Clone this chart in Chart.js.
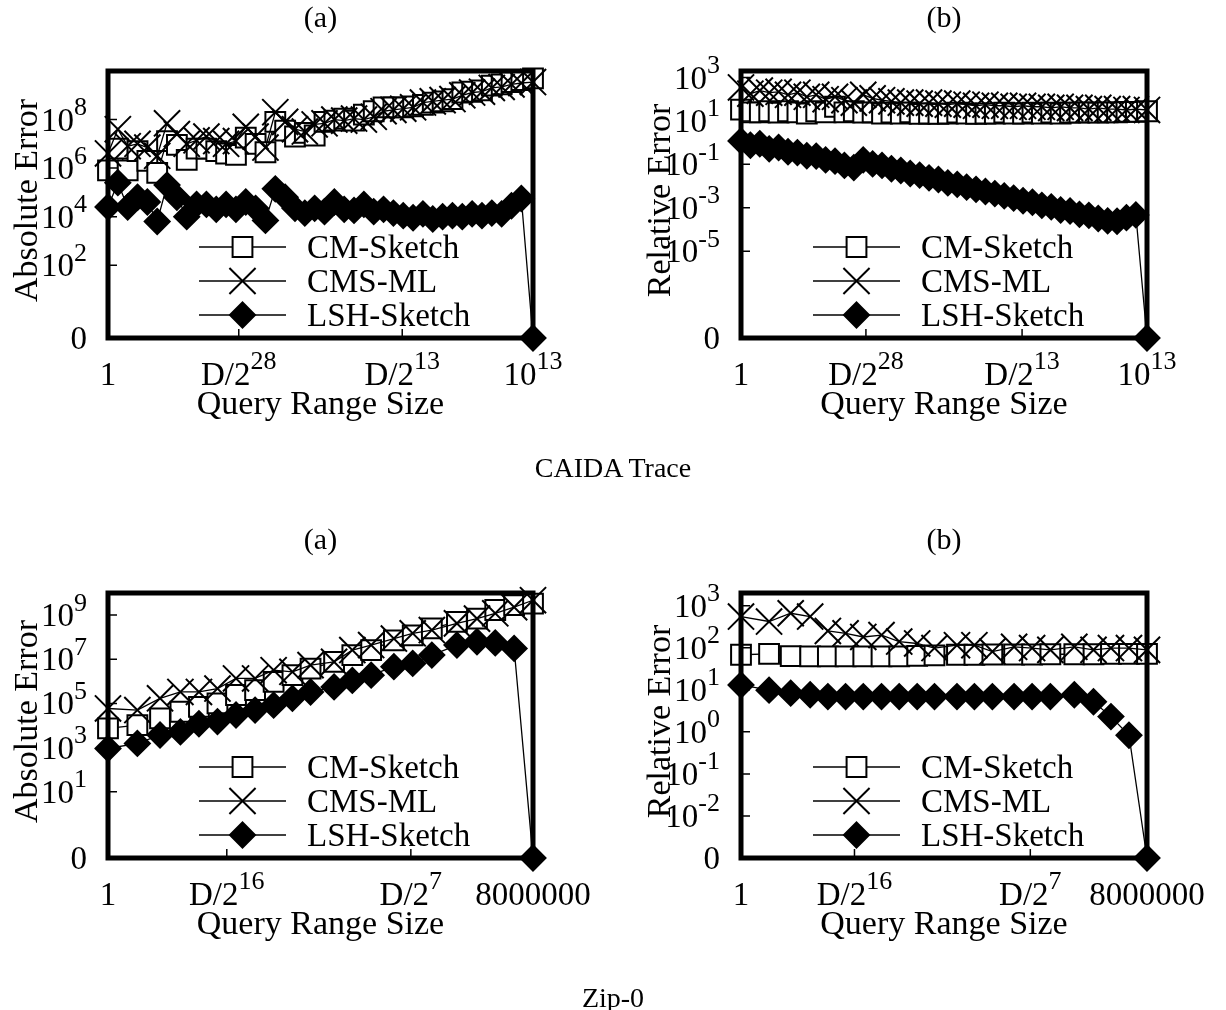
<!DOCTYPE html>
<html>
<head>
<meta charset="utf-8">
<script src="https://cdn.jsdelivr.net/npm/chart.js"></script>
<style>
  html, body { margin: 0; padding: 0; background: #fff; }
  #page { position: relative; width: 1226px; height: 1010px; overflow: hidden; background: #fff; }
  #page canvas { position: absolute; left: 0; top: 0; }
  .caption { position: absolute; left: 0; width: 1226px; text-align: center; color: #000;
             font-family: "Liberation Serif", "Times New Roman", serif; font-size: 28px; line-height: 28px; }
</style>
</head>
<body>
<div id="page">
  <canvas id="caidaAbs" width="1226" height="1010"></canvas>
  <canvas id="caidaRel" width="1226" height="1010"></canvas>
  <canvas id="zipAbs" width="1226" height="1010"></canvas>
  <canvas id="zipRel" width="1226" height="1010"></canvas>
  <div class="caption" style="top:454px">CAIDA Trace</div>
  <div class="caption" style="top:984px">Zip-0</div>
</div>
<script>
// Query range sizes (x) -------------------------------------------------------
const caidaSizes = [
  2 ** 0, 2 ** 1, 2 ** 2, 2 ** 3, 2 ** 4, 2 ** 5, 2 ** 6, 2 ** 7, 2 ** 8, 2 ** 9,
  2 ** 10, 2 ** 11, 2 ** 12, 2 ** 13, 2 ** 14, 2 ** 15, 2 ** 16, 2 ** 17, 2 ** 18, 2 ** 19,
  2 ** 20, 2 ** 21, 2 ** 22, 2 ** 23, 2 ** 24, 2 ** 25, 2 ** 26, 2 ** 27, 2 ** 28, 2 ** 29,
  2 ** 30, 2 ** 31, 2 ** 32, 2 ** 33, 2 ** 34, 2 ** 35, 2 ** 36, 2 ** 37, 2 ** 38, 2 ** 39,
  2 ** 40, 2 ** 41, 2 ** 42, 1e13
];
const zipSizes = [1, 3, 7, 15, 30, 60, 120, 245, 490, 990, 1950, 4700, 9300, 18800,
  44000, 89000, 182000, 465000, 985000, 1950000, 3950000, 8000000];

// CAIDA Trace, absolute error
const caidaAbsCM = [
  8e5, 6.3e6, 8e5, 5e6, 2e6, 6.3e5, 1.3e7, 9e6, 2.2e6, 6.3e6,
  6.3e6, 5e6, 4e6, 3.5e6, 1.8e7, 1e7, 4.5e6, 8e7, 3.5e7, 2e7,
  2.8e7, 2.2e7, 8e7, 9e7, 1.1e8, 9e7, 1.6e8, 2.2e8, 3.2e8, 3.2e8,
  3.2e8, 3.5e8, 4e8, 5e8, 5.6e8, 7e8, 1.3e9, 1.4e9, 1.6e9, 2.5e9,
  2.8e9, 3.5e9, 4.2e9, 5e9
];
const caidaAbsCMS = [
  4e6, 4e7, 8e6, 1e7, 7e6, 3.2e6, 7e7, 2.5e7, 1e7, 1.4e7,
  2e7, 1.3e7, 1e7, 1.3e7, 5e7, 2e7, 7e6, 2e8, 8e7, 4e7,
  3.2e7, 6.3e7, 7e7, 1e8, 9e7, 1.1e8, 1e8, 1.3e8, 2.2e8, 2.5e8,
  2.8e8, 3.2e8, 5e8, 5.6e8, 6.3e8, 7e8, 1e9, 1.3e9, 1.4e9, 2e9,
  2.2e9, 2.8e9, 3.2e9, 3.5e9
];
const caidaAbsLSH = [
  2.5e4, 2.5e5, 2.5e4, 6.3e4, 4e4, 6.3e3, 2e5, 6.3e4, 1e4, 3.2e4,
  3.2e4, 2e4, 3.2e4, 2e4, 4e4, 2.2e4, 7e3, 1.4e5, 6.3e4, 2.2e4,
  1.4e4, 2.2e4, 1.6e4, 4e4, 2e4, 1.8e4, 3.2e4, 1.6e4, 2e4, 1.4e4,
  1.1e4, 9e3, 1.3e4, 8e3, 1e4, 1.1e4, 1e4, 1.3e4, 1.1e4, 1.4e4,
  1.3e4, 2.8e4, 5.6e4, 0
];

// CAIDA Trace, relative error
const caidaRelCM = [
  33, 25, 25, 28, 24, 28, 25, 22, 28, 25,
  45, 25, 28, 24, 25, 22, 24, 22, 25, 21,
  22, 21, 22, 24, 22, 21, 22, 22, 24, 22,
  22, 24, 22, 24, 22, 24, 24, 25, 24, 25,
  25, 26, 26, 28
];
const caidaRelCMS = [
  350, 180, 250, 200, 220, 160, 200, 130, 160, 100,
  130, 90, 70, 160, 110, 90, 80, 70, 70, 63,
  70, 63, 56, 63, 56, 50, 56, 50, 50, 45,
  50, 45, 45, 40, 45, 40, 40, 35, 40, 35,
  35, 32, 35, 32
];
const caidaRelLSH = [
  1.2, 0.76, 0.89, 0.52, 0.6, 0.38, 0.35, 0.25, 0.24, 0.16,
  0.14, 0.089, 0.071, 0.16, 0.105, 0.089, 0.063, 0.052, 0.038, 0.032,
  0.024, 0.02, 0.014, 0.012, 0.0089, 0.0071, 0.0056, 0.0045, 0.0035, 0.0028,
  0.0021, 0.0018, 0.0013, 0.0011, 7.9e-4, 7.1e-4, 5e-4, 4.5e-4, 3.2e-4, 2.5e-4,
  2.4e-4, 3.5e-4, 4.7e-4, 0
];

// Zip-0, absolute error
const zipAbsCM = [7400, 1.05e4, 2.1e4, 4.2e4, 7e4, 1e5, 2.4e5, 4e5, 9.5e5, 1.9e6, 3.8e6,
  7.6e6, 1.55e7, 2.6e7, 7.2e7, 1.2e8, 2.5e8, 4.9e8, 6.9e8, 1.7e9, 2.8e9, 3.3e9];
const zipAbsCMS = [5.9e4, 5e4, 1.7e5, 3.3e5, 3.3e5, 4.7e5, 1.35e6, 1.35e6, 3.2e6, 2.7e6, 5.4e6,
  7.6e6, 2.6e7, 4.4e7, 8.7e7, 1.5e8, 2.1e8, 4.2e8, 6.9e8, 1.2e9, 2.3e9, 4.7e9];
const zipAbsLSH = [910, 1550, 3700, 5100, 1.2e4, 1.5e4, 3e4, 5e4, 8.3e4, 1.7e5, 3.3e5,
  5.6e5, 1.1e6, 1.9e6, 4.6e6, 6.5e6, 1.55e7, 4.4e7, 6.2e7, 5.5e7, 3.1e7, 0];

// Zip-0, relative error
const zipRelCM = [68, 71, 63, 62, 62, 62, 62, 62, 62, 64, 66,
  68, 68, 69, 69, 69, 70, 70, 70, 71, 71, 71];
const zipRelCMS = [550, 420, 660, 550, 250, 220, 180, 200, 140, 126, 98,
  115, 115, 81, 105, 98, 89, 105, 89, 98, 98, 89];
const zipRelLSH = [13, 9.8, 8.3, 7.6, 6.9, 6.9, 6.9, 6.9, 6.9, 6.9, 6.9,
  6.9, 6.9, 6.9, 6.9, 6.9, 6.9, 7.6, 5.2, 2.3, 0.83, 0];

// Tick values and labels ('^' marks a superscript) ---------------------------
const caidaXTicks = [1, 1e4, 1e9, 1e13];
const caidaXLabels = ['1', 'D/2^28', 'D/2^13', '10^13'];
const zipXTicks = [1, 85, 83000, 8000000];
const zipXLabels = ['1', 'D/2^16', 'D/2^7', '8000000'];

const caidaAbsYTicks = [0.1, 1e2, 1e4, 1e6, 1e8];
const caidaAbsYLabels = ['0', '10^2', '10^4', '10^6', '10^8'];
const caidaRelYTicks = [1e-9, 1e-5, 1e-3, 1e-1, 1e1, 1e3];
const caidaRelYLabels = ['0', '10^-5', '10^-3', '10^-1', '10^1', '10^3'];
const zipAbsYTicks = [0.01, 1e1, 1e3, 1e5, 1e7, 1e9];
const zipAbsYLabels = ['0', '10^1', '10^3', '10^5', '10^7', '10^9'];
const zipRelYTicks = [1e-3, 1e-2, 1e-1, 1e0, 1e1, 1e2, 1e3];
const zipRelYLabels = ['0', '10^-2', '10^-1', '10^0', '10^1', '10^2', '10^3'];

const seriesNames = ['CM-Sketch', 'CMS-ML', 'LSH-Sketch'];

// Styles -----------------------------------------------------------------------
const FONT = '"Liberation Serif", "Times New Roman", serif';
const seriesStyles = [
  { pointStyle: 'rect', radius: 14, fill: '#fff', order: 3 },
  { pointStyle: 'crossRot', radius: 18.5, fill: '#fff', order: 2 },
  { pointStyle: 'rectRot', radius: 12.5, fill: '#000', order: 1 }
];

const panels = [
  { id: 'caidaAbs', box: [108, 71, 533, 338], title: '(a)', yTitle: 'Absolute Error',
    xs: caidaSizes, series: [caidaAbsCM, caidaAbsCMS, caidaAbsLSH],
    xMin: 1, xMax: 1e13, yMin: 0.1, yMax: 1e10,
    xTicks: caidaXTicks, xLabels: caidaXLabels, yTicks: caidaAbsYTicks, yLabels: caidaAbsYLabels },
  { id: 'caidaRel', box: [741, 71, 1147, 338], title: '(b)', yTitle: 'Relative Error',
    xs: caidaSizes, series: [caidaRelCM, caidaRelCMS, caidaRelLSH],
    xMin: 1, xMax: 1e13, yMin: 1e-9, yMax: 2000,
    xTicks: caidaXTicks, xLabels: caidaXLabels, yTicks: caidaRelYTicks, yLabels: caidaRelYLabels },
  { id: 'zipAbs', box: [108, 593, 533, 858], title: '(a)', yTitle: 'Absolute Error',
    xs: zipSizes, series: [zipAbsCM, zipAbsCMS, zipAbsLSH],
    xMin: 1, xMax: 8000000, yMin: 0.01, yMax: 1e10,
    xTicks: zipXTicks, xLabels: zipXLabels, yTicks: zipAbsYTicks, yLabels: zipAbsYLabels },
  { id: 'zipRel', box: [741, 593, 1147, 858], title: '(b)', yTitle: 'Relative Error',
    xs: zipSizes, series: [zipRelCM, zipRelCMS, zipRelLSH],
    xMin: 1, xMax: 8000000, yMin: 1e-3, yMax: 2000,
    xTicks: zipXTicks, xLabels: zipXLabels, yTicks: zipRelYTicks, yLabels: zipRelYLabels }
];

// Text with a gnuplot-style superscript, e.g. "10^-5"
function drawRich(ctx, text, x, y, align, size) {
  const [base, sup] = text.split('^');
  const supSize = Math.round(size * 0.78);
  ctx.font = `${size}px ${FONT}`;
  const wBase = ctx.measureText(base).width;
  let wSup = 0;
  if (sup) {
    ctx.font = `${supSize}px ${FONT}`;
    wSup = ctx.measureText(sup).width;
  }
  const w = wBase + wSup;
  const x0 = align === 'right' ? x - w : align === 'center' ? x - w / 2 : x;
  ctx.textAlign = 'left';
  ctx.textBaseline = 'alphabetic';
  ctx.font = `${size}px ${FONT}`;
  ctx.fillText(base, x0, y);
  if (sup) {
    ctx.font = `${supSize}px ${FONT}`;
    ctx.fillText(sup, x0 + wBase, y - size * 0.47);
  }
}

// Legend marker, same geometry as the Chart.js point styles
function drawMarker(ctx, style, x, y, r, fill) {
  ctx.beginPath();
  if (style === 'rect') {
    const s = Math.SQRT1_2 * r;
    ctx.rect(x - s, y - s, 2 * s, 2 * s);
  } else if (style === 'rectRot') {
    ctx.moveTo(x - r, y); ctx.lineTo(x, y - r); ctx.lineTo(x + r, y); ctx.lineTo(x, y + r);
    ctx.closePath();
  } else {
    const s = Math.SQRT1_2 * r;
    ctx.moveTo(x - s, y - s); ctx.lineTo(x + s, y + s);
    ctx.moveTo(x + s, y - s); ctx.lineTo(x - s, y + s);
  }
  if (style !== 'crossRot') {
    ctx.fillStyle = fill;
    ctx.fill();
  }
  ctx.lineWidth = 2;
  ctx.stroke();
}

// Border, inward ticks, labels and key drawn like the gnuplot original
function framePlugin(p) {
  return {
    id: 'frame',
    afterDraw(chart) {
      const ctx = chart.ctx;
      const { left, top, right, bottom } = chart.chartArea;
      const xScale = chart.scales.x;
      const yScale = chart.scales.y;
      ctx.save();
      ctx.strokeStyle = '#000';
      ctx.fillStyle = '#000';

      ctx.lineWidth = 1.5;
      ctx.beginPath();
      p.yTicks.forEach((v, i) => {
        if (i === 0) return;
        const y = yScale.getPixelForValue(v);
        ctx.moveTo(left, y);
        ctx.lineTo(left + 9, y);
      });
      p.xTicks.forEach(v => {
        const x = xScale.getPixelForValue(v);
        if (x < left + 2 || x > right - 2) return;
        ctx.moveTo(x, bottom);
        ctx.lineTo(x, bottom - 9);
      });
      ctx.stroke();

      ctx.lineWidth = 5;
      ctx.strokeRect(left, top, right - left, bottom - top);

      p.yTicks.forEach((v, i) => drawRich(ctx, p.yLabels[i], left - 21, yScale.getPixelForValue(v) + 11, 'right', 33));
      p.xTicks.forEach((v, i) => drawRich(ctx, p.xLabels[i], xScale.getPixelForValue(v), bottom + 47, 'center', 33));

      ctx.textAlign = 'center';
      ctx.textBaseline = 'alphabetic';
      ctx.font = `34px ${FONT}`;
      ctx.fillText('Query Range Size', (left + right) / 2, bottom + 76);
      ctx.save();
      ctx.translate(left - 71, (top + bottom) / 2 - 4);
      ctx.rotate(-Math.PI / 2);
      ctx.fillText(p.yTitle, 0, 0);
      ctx.restore();

      ctx.font = `30px ${FONT}`;
      ctx.fillText(p.title, (left + right) / 2, top - 44);

      // key
      const rows = [bottom - 91, bottom - 57, bottom - 23];
      seriesStyles.forEach((s, i) => {
        const y = rows[i];
        ctx.lineWidth = 1.3;
        ctx.beginPath();
        ctx.moveTo(right - 334, y);
        ctx.lineTo(right - 247, y);
        ctx.stroke();
        drawMarker(ctx, s.pointStyle, right - 290.5, y, s.radius, s.fill);
        ctx.fillStyle = '#000';
        ctx.font = `33px ${FONT}`;
        ctx.textAlign = 'left';
        ctx.fillText(seriesNames[i], right - 226, y + 11);
      });
      ctx.restore();
    }
  };
}

panels.forEach(p => {
  new Chart(document.getElementById(p.id), {
    type: 'line',
    data: {
      datasets: seriesStyles.map((s, i) => ({
        label: seriesNames[i],
        // a zero error sits on the "0" line at the bottom of the axis
        data: p.xs.map((x, j) => ({ x, y: p.series[i][j] > 0 ? p.series[i][j] : p.yMin })),
        borderColor: '#000',
        borderWidth: 1.3,
        tension: 0,
        fill: false,
        pointStyle: s.pointStyle,
        pointRadius: s.radius,
        pointBorderWidth: 2,
        pointBorderColor: '#000',
        pointBackgroundColor: s.fill,
        order: s.order,
        clip: false
      }))
    },
    options: {
      responsive: false,
      animation: false,
      events: [],
      layout: {
        padding: { left: p.box[0], top: p.box[1], right: 1226 - p.box[2], bottom: 1010 - p.box[3] }
      },
      scales: {
        x: { type: 'logarithmic', min: p.xMin, max: p.xMax, display: false },
        y: { type: 'logarithmic', min: p.yMin, max: p.yMax, display: false }
      },
      plugins: {
        legend: { display: false },
        tooltip: { enabled: false }
      }
    },
    plugins: [framePlugin(p)]
  });
});
</script>
</body>
</html>
